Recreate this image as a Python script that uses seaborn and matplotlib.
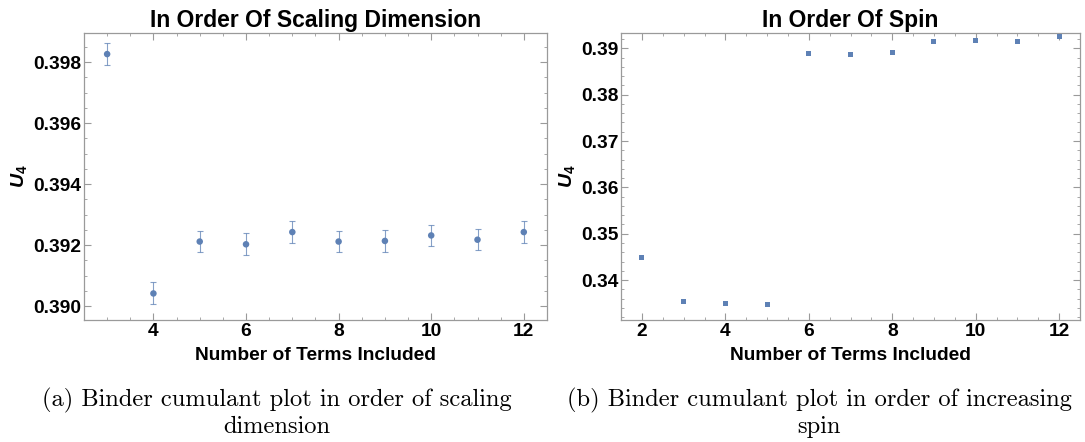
import numpy as np
import pandas as pd
import matplotlib.pyplot as plt
from matplotlib.ticker import MultipleLocator, FormatStrFormatter
import seaborn as sns

plt.switch_backend('Agg')
sns.set_theme(style='ticks')
plt.rcParams['font.family'] = ['Liberation Sans', 'DejaVu Sans']
plt.rcParams['text.color'] = 'black'
plt.rcParams['axes.labelcolor'] = 'black'
plt.rcParams['mathtext.fontset'] = 'custom'
plt.rcParams['mathtext.bf'] = 'Liberation Sans:bold'
plt.rcParams['mathtext.bfit'] = 'Liberation Sans:italic:bold'
plt.rcParams['mathtext.rm'] = 'Liberation Sans:bold'

BLUE = '#5e81b5'
GREY = '#9a9a9a'

# (a) ordered by scaling dimension
terms_a = [3, 4, 5, 6, 7, 8, 9, 10, 11, 12]
u4_a = [0.39826, 0.39042, 0.39212, 0.39203, 0.39243, 0.39212, 0.39214, 0.39232, 0.39218, 0.39243]
err_a = [0.00037, 0.00036, 0.00035, 0.00036, 0.00035, 0.00035, 0.00035, 0.00035, 0.00035, 0.00035]

# (b) ordered by spin
terms_b = [2, 3, 4, 5, 6, 7, 8, 9, 10, 11, 12]
u4_b = [0.34483, 0.33530, 0.33505, 0.33470, 0.38892, 0.38877, 0.38920, 0.39145, 0.39158, 0.39145, 0.39245]

captions = ['(a) Binder cumulant plot in order of scaling\ndimension',
            '(b) Binder cumulant plot in order of increasing\nspin']


def style_axes(ax, ymaj, ymin, yfmt):
    ax.xaxis.set_major_locator(MultipleLocator(2))
    ax.xaxis.set_minor_locator(MultipleLocator(0.5))
    ax.yaxis.set_major_locator(MultipleLocator(ymaj))
    ax.yaxis.set_minor_locator(MultipleLocator(ymin))
    ax.yaxis.set_major_formatter(FormatStrFormatter(yfmt))
    ax.tick_params(which='both', direction='in', top=True, right=True,
                   color=GREY, labelcolor='black')
    ax.tick_params(which='major', length=5, width=0.8, labelsize=13.8, pad=2)
    ax.tick_params(which='minor', length=2.5, width=0.6)
    ax.tick_params(axis='x', which='both', labeltop=False)
    ax.tick_params(axis='y', which='both', labelright=False)
    for lab in ax.get_xticklabels() + ax.get_yticklabels():
        lab.set_fontweight('bold')
    for sp in ax.spines.values():
        sp.set_color(GREY)
        sp.set_linewidth(0.9)
    ax.set_xlabel('Number of Terms Included', fontsize=13.8, fontweight='bold', labelpad=5)
    ax.set_ylabel(r'$\mathbfit{U}_{\mathbf{4}}$', fontsize=14, labelpad=2)


fig = plt.figure(figsize=(10.85, 4.42), dpi=100)
ax1 = fig.add_axes([0.0774, 0.276, 0.4267, 0.6493])
ax2 = fig.add_axes([0.5724, 0.276, 0.4230, 0.6493])

df_a = pd.DataFrame({'terms': terms_a, 'u4': u4_a, 'err': err_a})
ax1.errorbar(df_a['terms'], df_a['u4'], yerr=df_a['err'], fmt='none',
             ecolor=BLUE, elinewidth=0.8, capsize=2, capthick=0.8, alpha=0.75)
sns.scatterplot(data=df_a, x='terms', y='u4', ax=ax1, color=BLUE, s=22,
                marker='o', edgecolor='none', zorder=3)
ax1.set_xlim(2.5, 12.5)
ax1.set_ylim(0.38955, 0.39895)
style_axes(ax1, 0.002, 0.0005, '%.3f')
ax1.set_title('In Order Of Scaling Dimension', fontsize=16.5, fontweight='bold', pad=4)

df_b = pd.DataFrame({'terms': terms_b, 'u4': u4_b})
sns.scatterplot(data=df_b, x='terms', y='u4', ax=ax2, color=BLUE, s=13,
                marker='s', edgecolor='none', zorder=3)
ax2.set_xlim(1.5, 12.5)
ax2.set_ylim(0.3314, 0.3933)
style_axes(ax2, 0.01, 0.002, '%.2f')
ax2.set_title('In Order Of Spin', fontsize=16.5, fontweight='bold', pad=4)

fig.text(0.2555, 0.010, captions[0], ha='center', va='bottom', fontsize=17.6,
         family=['cmr10', 'DejaVu Serif'], linespacing=1.15, multialignment='center')
fig.text(0.7550, 0.010, captions[1], ha='center', va='bottom', fontsize=17.6,
         family=['cmr10', 'DejaVu Serif'], linespacing=1.15, multialignment='center')

fig.savefig('out.png', dpi=100)
plt.close('all')
